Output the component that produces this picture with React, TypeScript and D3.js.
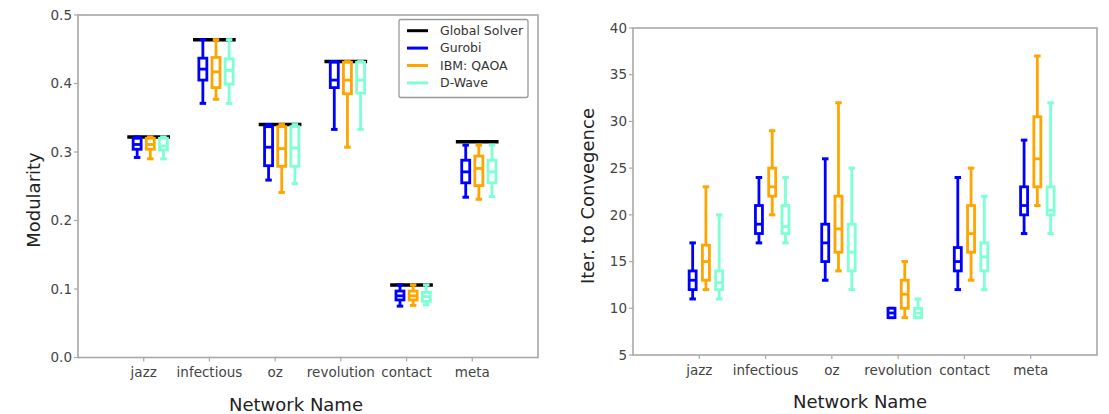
import React from "react";
import * as d3 from "d3";

// ---------- data ----------
const networks = ["jazz", "infectious", "oz", "revolution", "contact", "meta"];
const seriesNames = ["Gurobi", "IBM: QAOA", "D-Wave"];
const seriesColors = ["#0000ff", "#ffa500", "#7fffd4"];
const globalLabel = "Global Solver";
const globalColor = "#000000";

// Modularity: global solver value per network
const modGlobal = [0.322, 0.464, 0.34, 0.432, 0.106, 0.315];
// box stats [min, q1, median, q3, max]
const modGurobi = [
  [0.292, 0.304, 0.311, 0.32, 0.322],
  [0.371, 0.405, 0.421, 0.437, 0.464],
  [0.259, 0.28, 0.307, 0.337, 0.34],
  [0.333, 0.394, 0.405, 0.431, 0.432],
  [0.075, 0.084, 0.09, 0.097, 0.106],
  [0.234, 0.255, 0.271, 0.288, 0.31],
];
const modQAOA = [
  [0.29, 0.304, 0.311, 0.32, 0.322],
  [0.377, 0.394, 0.417, 0.438, 0.464],
  [0.241, 0.279, 0.305, 0.337, 0.34],
  [0.307, 0.385, 0.405, 0.431, 0.432],
  [0.076, 0.084, 0.09, 0.097, 0.106],
  [0.231, 0.251, 0.276, 0.294, 0.31],
];
const modDWave = [
  [0.29, 0.303, 0.309, 0.32, 0.322],
  [0.371, 0.399, 0.419, 0.436, 0.464],
  [0.254, 0.279, 0.306, 0.337, 0.34],
  [0.333, 0.386, 0.405, 0.431, 0.432],
  [0.077, 0.082, 0.089, 0.095, 0.106],
  [0.235, 0.255, 0.271, 0.288, 0.31],
];

// Iterations to convergence
const iterGurobi = [
  [11, 12, 13, 14, 17],
  [17, 18, 19, 21, 24],
  [13, 15, 17, 19, 26],
  [9, 9, 9.5, 10, 10],
  [12, 14, 15, 16.5, 24],
  [18, 20, 21, 23, 28],
];
const iterQAOA = [
  [12, 13, 15, 16.75, 23],
  [20, 22, 23, 25, 29],
  [14, 16, 18.5, 22, 32],
  [9, 10, 11.5, 13, 15],
  [13, 16, 18, 21, 25],
  [21, 23, 26, 30.5, 37],
];
const iterDWave = [
  [11, 12, 12.75, 14, 20],
  [17, 18, 18.75, 21, 24],
  [12, 14, 16, 19, 25],
  [9, 9, 9.5, 10, 11],
  [12, 14, 15.5, 17, 22],
  [18, 20, 20.5, 23, 32],
];

const modTicks = [0, 0.1, 0.2, 0.3, 0.4, 0.5];
const iterTicks = [5, 10, 15, 20, 25, 30, 35, 40];
const xTitle = "Network Name";
const leftYTitle = "Modularity";
const rightYTitle = "Iter. to Convegence";

const offsets = [-0.1, 0.1, 0.3];

const FONT = "DejaVu Sans, Verdana, sans-serif";
const TICK_COLOR = "#444";
const SPINE = "#a8a8a8";

type Panel = {
  x0: number; x1: number; y0: number; y1: number;
  yDomain: [number, number];
  yTicks: number[];
  fmt: (v: number) => string;
  series: number[][][];
  global?: number[];
  boxW: number;
  yTitle: string;
  yTitleX: number;
  yTitleY: number;
  xTitleX: number;
};

function BoxMark({ cx, st, y, w, color }: { cx: number; st: number[]; y: d3.ScaleLinear<number, number>; w: number; color: string }) {
  const [mn, q1, md, q3, mx] = st;
  const capW = 6.5;
  return (
    <g stroke={color} fill="none">
      <line x1={cx} x2={cx} y1={y(q3)} y2={y(mx)} strokeWidth={2.8} />
      <line x1={cx} x2={cx} y1={y(q1)} y2={y(mn)} strokeWidth={2.8} />
      <line x1={cx - capW / 2} x2={cx + capW / 2} y1={y(mx)} y2={y(mx)} strokeWidth={3} />
      <line x1={cx - capW / 2} x2={cx + capW / 2} y1={y(mn)} y2={y(mn)} strokeWidth={3} />
      <rect x={cx - w / 2} y={y(q3)} width={w} height={Math.max(0.1, y(q1) - y(q3))} strokeWidth={2.8} fill="#fff" />
      <line x1={cx - w / 2} x2={cx + w / 2} y1={y(md)} y2={y(md)} strokeWidth={2.8} />
    </g>
  );
}

function PanelView({ p }: { p: Panel }) {
  const x = d3.scaleLinear().domain([0, 7]).range([p.x0, p.x1]);
  const y = d3.scaleLinear().domain(p.yDomain).range([p.y1, p.y0]);
  return (
    <g fontFamily={FONT}>
      {/* spines */}
      <rect x={p.x0} y={p.y0} width={p.x1 - p.x0} height={p.y1 - p.y0} fill="none" stroke={SPINE} strokeWidth={1.6} />
      {/* y ticks */}
      {p.yTicks.map((t) => (
        <g key={t}>
          <line x1={p.x0 - 4} x2={p.x0} y1={y(t)} y2={y(t)} stroke={SPINE} strokeWidth={1.2} />
          <text x={p.x0 - 6} y={y(t)} dy="0.35em" textAnchor="end" fontSize={13.5} fill={TICK_COLOR}>{p.fmt(t)}</text>
        </g>
      ))}
      {/* x ticks */}
      {networks.map((n, i) => (
        <g key={n}>
          <line x1={x(i + 1)} x2={x(i + 1)} y1={p.y1} y2={p.y1 + 4} stroke={SPINE} strokeWidth={1.2} />
          <text x={x(i + 1)} y={p.y1 + 15} dy="0.35em" textAnchor="middle" fontSize={13.5} fill={TICK_COLOR}>{n}</text>
        </g>
      ))}
      {/* global solver lines */}
      {p.global && p.global.map((g, i) => (
        <line key={"g" + i} x1={x(i + 1 - 0.25)} x2={x(i + 1 + 0.4)} y1={y(g)} y2={y(g)} stroke={globalColor} strokeWidth={3.5} />
      ))}
      {/* boxes */}
      {p.series.map((s, si) =>
        s.map((st, i) => (
          <BoxMark key={si + "-" + i} cx={x(i + 1 + offsets[si])} st={st} y={y} w={p.boxW} color={seriesColors[si]} />
        ))
      )}
      {/* titles */}
      <text x={p.xTitleX} y={p.y1 + 47} dy="0.35em" textAnchor="middle" fontSize={18} fill="#222">{xTitle}</text>
      <text transform={`translate(${p.yTitleX},${p.yTitleY}) rotate(-90)`} textAnchor="middle" dy="0.35em" fontSize={18} fill="#222">{p.yTitle}</text>
    </g>
  );
}

export default function App() {
  const left: Panel = {
    x0: 78, x1: 538, y0: 15, y1: 357.5,
    yDomain: [0, 0.5], yTicks: modTicks, fmt: d3.format(".1f"),
    series: [modGurobi, modQAOA, modDWave], global: modGlobal,
    boxW: 8, yTitle: leftYTitle, yTitleX: 34, yTitleY: 200, xTitleX: 296,
  };
  const right: Panel = {
    x0: 633, x1: 1097, y0: 28, y1: 355,
    yDomain: [5, 40], yTicks: iterTicks, fmt: d3.format("d"),
    series: [iterGurobi, iterQAOA, iterDWave],
    boxW: 7, yTitle: rightYTitle, yTitleX: 588, yTitleY: 196, xTitleX: 860,
  };
  const legendItems = [globalLabel, ...seriesNames];
  const legendColors = [globalColor, ...seriesColors];
  return (
    <svg width={1109} height={414} style={{ position: "absolute", left: 0, top: 0, background: "#fff" }}>
      <rect width={1109} height={414} fill="#fff" />
      <PanelView p={left} />
      <PanelView p={right} />
      <g fontFamily={FONT}>
        <rect x={399} y={19.5} width={129} height={78} fill="#fff" stroke="#999" strokeWidth={1.3} rx={2} />
        {legendItems.map((l, i) => (
          <g key={l}>
            <line x1={407} x2={428} y1={30.7 + i * 17.4} y2={30.7 + i * 17.4} stroke={legendColors[i]} strokeWidth={3} />
            <text x={440} y={30.7 + i * 17.4} dy="0.35em" fontSize={12.5} fill="#333">{l}</text>
          </g>
        ))}
      </g>
    </svg>
  );
}
